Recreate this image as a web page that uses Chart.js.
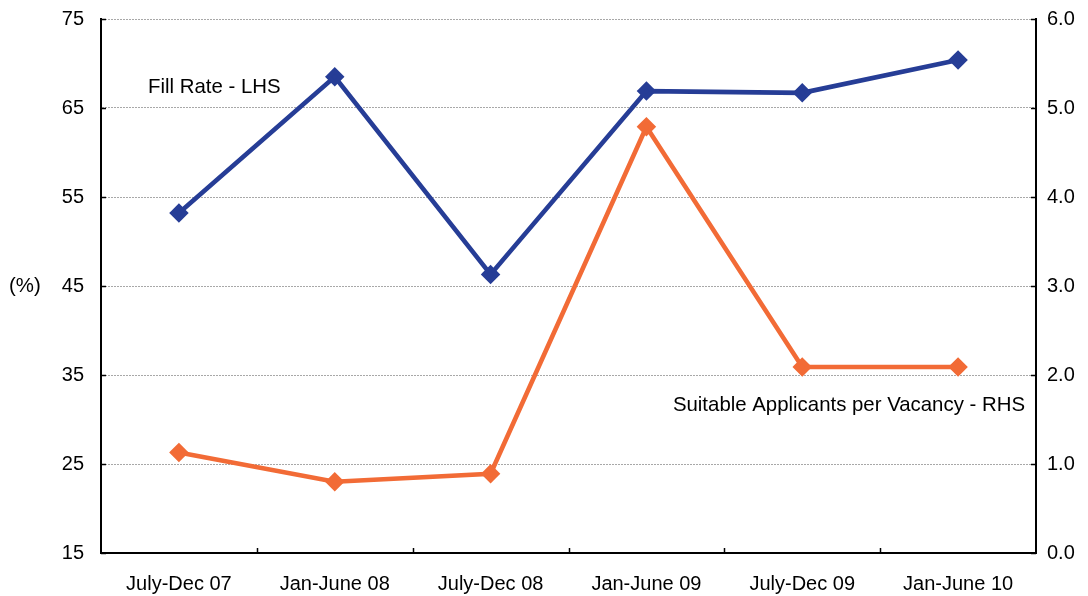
<!DOCTYPE html>
<html lang="en">
<head>
<meta charset="UTF-8" />
<title>Fill rate and suitable applicants per vacancy</title>
<script src="https://cdn.jsdelivr.net/npm/chart.js@4.4.0/dist/chart.umd.min.js"></script>
<style>
  html, body { margin: 0; padding: 0; background: #fff; }
  #wrap { width: 1088px; height: 596px; }
</style>
</head>
<body>
<div id="wrap"><canvas id="chart" width="1088" height="596"></canvas></div>
<script>
const periods = ["July-Dec 07", "Jan-June 08", "July-Dec 08", "Jan-June 09", "July-Dec 09", "Jan-June 10"];
const fillRate = [53.2, 68.5, 46.3, 66.9, 66.7, 70.4];
const applicantsPerVacancy = [1.13, 0.80, 0.89, 4.79, 2.09, 2.09];

const BLUE = "#263D96";
const ORANGE = "#F26B36";
const FONT = "'Liberation Sans', Arial, sans-serif";
const FS = 20;

// y-axes: no extra room for the end labels, the plot top is fixed by layout padding
const fixY = w => s => { s.width = w; s.paddingTop = 0; s.paddingBottom = 0; };

// ticks point inward, drawn by hand; also the series labels
const extras = {
  id: "extras",
  afterDraw(chart) {
    const { ctx, chartArea: a, scales } = chart;
    ctx.save();
    ctx.strokeStyle = "#000";
    ctx.lineWidth = 1.5;
    scales.y.ticks.forEach(t => {
      const py = Math.round(scales.y.getPixelForValue(t.value)) + 0.5;
      ctx.beginPath(); ctx.moveTo(a.left, py); ctx.lineTo(a.left + 5, py); ctx.stroke();
    });
    scales.y1.ticks.forEach(t => {
      const py = Math.round(scales.y1.getPixelForValue(t.value)) + 0.5;
      ctx.beginPath(); ctx.moveTo(a.right - 5, py); ctx.lineTo(a.right, py); ctx.stroke();
    });
    const step = (a.right - a.left) / periods.length;
    for (let i = 1; i < periods.length; i++) {
      const px = Math.round(a.left + step * i) + 0.5;
      ctx.beginPath(); ctx.moveTo(px, a.bottom); ctx.lineTo(px, a.bottom - 5); ctx.stroke();
    }
    ctx.fillStyle = "#000";
    ctx.font = "20.4px " + FONT;
    ctx.textBaseline = "middle";
    ctx.textAlign = "left";
    ctx.fillText("Fill Rate - LHS", a.left + 47, a.top + 68);
    ctx.textAlign = "right";
    ctx.fillText("Suitable Applicants per Vacancy - RHS", a.right - 11, a.top + 386);
    ctx.textAlign = "left";
    ctx.fillText("(%)", 9, scales.y.getPixelForValue(45));
    ctx.restore();
  }
};

new Chart(document.getElementById("chart"), {
  type: "line",
  data: {
    labels: periods,
    datasets: [
      { label: "Fill Rate - LHS", data: fillRate, yAxisID: "y", borderColor: BLUE, backgroundColor: BLUE,
        borderWidth: 4.6, pointStyle: "rectRot", pointRadius: 6.5, pointHoverRadius: 6.5, tension: 0 },
      { label: "Suitable Applicants per Vacancy - RHS", data: applicantsPerVacancy, yAxisID: "y1", borderColor: ORANGE, backgroundColor: ORANGE,
        borderWidth: 4.6, pointStyle: "rectRot", pointRadius: 6.5, pointHoverRadius: 6.5, tension: 0 },
    ],
  },
  options: {
    responsive: false,
    animation: false,
    layout: { padding: { top: 19, right: 0, left: 0, bottom: 0 } },
    plugins: { legend: { display: false }, tooltip: { enabled: false } },
    scales: {
      x: {
        offset: true,
        grid: { display: false, drawTicks: false },
        border: { display: true, color: "#000", width: 2 },
        ticks: { color: "#000", font: { family: FONT, size: FS }, padding: 19, maxRotation: 0 },
        afterFit: s => { s.height = 43; s.paddingLeft = 0; s.paddingRight = 0; },
      },
      y: {
        position: "left",
        min: 15, max: 75,
        ticks: { stepSize: 10, color: "#000", font: { family: FONT, size: FS }, padding: 17 },
        grid: {
          drawTicks: false,
          color: c => c.tick.value === 15 ? "rgba(0,0,0,0)" : "#a8a8a8",
          lineWidth: 1,
        },
        border: { display: true, color: "#000", width: 2, dash: [2, 1] },
        afterFit: fixY(101),
      },
      y1: {
        position: "right",
        min: 0, max: 6,
        ticks: { stepSize: 1, color: "#000", font: { family: FONT, size: FS }, padding: 11, callback: v => v.toFixed(1) },
        grid: { display: false, drawTicks: false },
        border: { display: true, color: "#000", width: 2 },
        afterFit: fixY(52),
      },
    },
  },
  plugins: [extras],
});
</script>
</body>
</html>
